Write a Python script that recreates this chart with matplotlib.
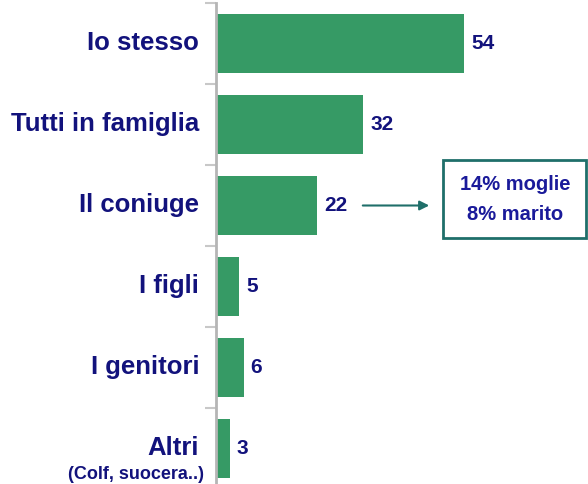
import matplotlib
matplotlib.use("Agg")
import matplotlib.pyplot as plt
from matplotlib.patches import Rectangle
import numpy as np

categories = ["Io stesso", "Tutti in famiglia", "Il coniuge", "I figli", "I genitori", "Altri"]
values = [54, 32, 22, 5, 6, 3]
note_lines = ["14% moglie", "8% marito"]
sub_label = "(Colf, suocera..)"

green = "#369a65"
navy = "#12127c"
teal = "#1f6f6a"

plt.rcParams['font.family'] = ['Liberation Sans', 'DejaVu Sans']

fig = plt.figure(figsize=(5.88, 4.84), dpi=100)
W, H = 588, 484
left_px, top_px, right_px = 216, 3, 588
n = len(categories)
step = 81
bottom_px = top_px + n * step
ax = fig.add_axes([left_px / W, 1 - bottom_px / H, (right_px - left_px) / W, (bottom_px - top_px) / H])

y = np.arange(n)
ax.barh(y, values, height=0.72, color=green, zorder=2)
ax.set_ylim(n - 0.5, -0.5)
ax.set_xlim(0, (right_px - left_px) / 4.6)

for s in ["top", "right", "bottom"]:
    ax.spines[s].set_visible(False)
ax.spines["left"].set_color("#b5b5b5")
ax.spines["left"].set_linewidth(2)
ax.set_xticks([])
ax.set_yticks(np.arange(n + 1) - 0.5)
ax.set_yticklabels([])
ax.tick_params(axis="y", length=8, width=1.5, color="#c8c8c8")

for i, (c, v) in enumerate(zip(categories, values)):
    ax.annotate(c, xy=(0, i), xytext=(-12, 0), textcoords="offset points",
                ha="right", va="center", fontsize=18.5, fontweight="bold", color=navy,
                annotation_clip=False)
    ax.annotate(str(v), xy=(v, i), xytext=(5, 0), textcoords="offset points",
                ha="left", va="center", fontsize=15, fontweight="bold", color=navy)

ax.annotate(sub_label, xy=(0, n - 1), xytext=(-9, -19), textcoords="offset points",
            ha="right", va="center", fontsize=13, fontweight="bold", color=navy,
            annotation_clip=False)

# arrow from the coniuge value to the note box
ax.annotate("", xy=((432 - left_px) / 4.6, 2), xytext=((360 - left_px) / 4.6, 2),
            arrowprops=dict(arrowstyle="-|>", color=teal, lw=1.5, mutation_scale=14))

# note box
fig.patches.append(Rectangle((443 / W, 1 - 238 / H), (586 - 443) / W, (238 - 160) / H,
                             transform=fig.transFigure, fc="white", ec=teal, lw=2))
fig.text(515 / W, 1 - 185 / H, note_lines[0], ha="center", va="center",
         fontsize=14.5, fontweight="bold", color="#1a1a9a")
fig.text(515 / W, 1 - 214 / H, note_lines[1], ha="center", va="center",
         fontsize=14.5, fontweight="bold", color="#1a1a9a")

fig.savefig("out.png", dpi=100)
